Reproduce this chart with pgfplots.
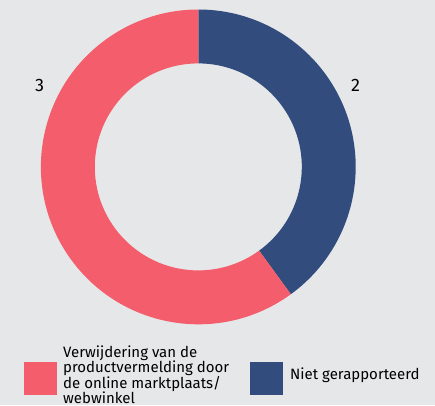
\documentclass[border=0pt]{standalone}
\usepackage{pgfplots}
\pgfplotsset{compat=1.18}
\usepackage{pgfplotstable}
\usepackage{fontspec}
\setmainfont{Fira Sans}
\definecolor{bg}{RGB}{230,231,232}
\definecolor{cred}{RGB}{243,93,108}
\definecolor{cblue}{RGB}{50,76,125}
\pgfplotstableread{
label value
Verwijdering 3
Niet 2
}\datatable
\begin{document}
\begin{tikzpicture}
\pgfplotstablegetelem{0}{value}\of\datatable\let\valA\pgfplotsretval
\pgfplotstablegetelem{1}{value}\of\datatable\let\valB\pgfplotsretval
\pgfmathsetmacro{\tot}{\valA+\valB}
\pgfmathsetmacro{\aB}{90-360*\valB/\tot}
\pgfmathsetmacro{\aA}{\aB-360*\valA/\tot}
\def\R{157.4}\def\r{103.5}
\pgfmathsetmacro{\w}{\R-\r}
\begin{axis}[x=1bp,y=1bp,xmin=0,xmax=435,ymin=0,ymax=405,hide axis,clip=false,scale only axis]
\fill[bg] (axis cs:0,0) rectangle (axis cs:435,405);
\fill[cblue] (axis cs:198.3,238.1) ++(90:\R) arc[start angle=90,end angle=\aB,radius=\R] -- ++(\aB:-\w) arc[start angle=\aB,end angle=90,radius=\r] -- cycle;
\fill[cred] (axis cs:198.3,238.1) ++(\aB:\R) arc[start angle=\aB,end angle=\aA,radius=\R] -- ++(\aA:-\w) arc[start angle=\aA,end angle=\aB,radius=\r] -- cycle;
\node[font=\fontsize{18bp}{20bp}\selectfont] at (axis cs:39.7,320) {\valA};
\node[font=\fontsize{18bp}{20bp}\selectfont] at (axis cs:355.5,320) {\valB};
\fill[cred] (axis cs:24,10) rectangle (axis cs:57,43);
\fill[cblue] (axis cs:250,10) rectangle (axis cs:283,43);
\node[anchor=west,inner sep=0pt,align=left,font=\fontsize{15bp}{15bp}\selectfont] at (axis cs:63,30.5) {Verwijdering van de\\productvermelding door\\de online marktplaats/\\webwinkel};
\node[anchor=west,inner sep=0pt,font=\fontsize{15bp}{15bp}\selectfont] at (axis cs:290,29.5) {Niet gerapporteerd};
\end{axis}
\end{tikzpicture}
\end{document}
